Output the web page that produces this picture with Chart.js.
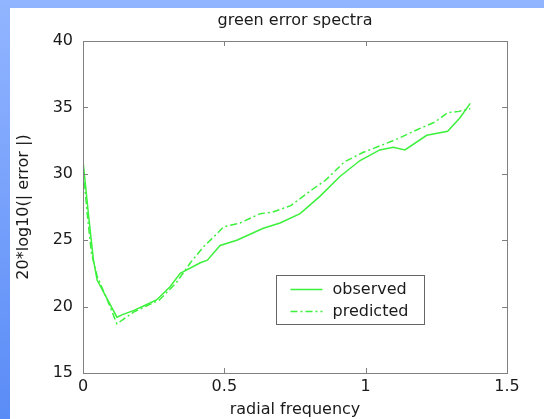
<!DOCTYPE html>
<html>
<head>
<meta charset="utf-8">
<script src="https://cdn.jsdelivr.net/npm/chart.js@4.4.1/dist/chart.umd.min.js"></script>
<style>
  html, body { margin: 0; padding: 0; }
  body {
    width: 544px; height: 419px; overflow: hidden;
    background: linear-gradient(to bottom, #92b5ff, #5a8cf7);
    position: relative;
  }
  #wrap { position: absolute; left: 10px; top: 8px; width: 534px; height: 411px; background: #fff; }
</style>
</head>
<body>
<div id="wrap"><canvas id="c" width="534" height="411"></canvas></div>
<script>
// observed spectrum
const freqObs = [0, 0.02, 0.037, 0.05, 0.085, 0.12, 0.14, 0.178, 0.22, 0.26, 0.308, 0.344, 0.415, 0.44, 0.485, 0.544, 0.638, 0.697, 0.768, 0.838, 0.909, 0.98, 1.05, 1.098, 1.139, 1.216, 1.29, 1.333, 1.37];
const errObs  = [31.0, 26.8, 23.5, 22.0, 20.6, 19.2, 19.4, 19.7, 20.1, 20.5, 21.5, 22.5, 23.3, 23.5, 24.6, 25.0, 25.9, 26.3, 27.0, 28.3, 29.8, 31.0, 31.8, 32.0, 31.8, 32.9, 33.2, 34.2, 35.3];
// predicted spectrum
const freqPred = [0, 0.015, 0.03, 0.05, 0.09, 0.12, 0.14, 0.18, 0.22, 0.27, 0.33, 0.38, 0.426, 0.465, 0.497, 0.556, 0.627, 0.669, 0.735, 0.81, 0.857, 0.925, 0.99, 1.062, 1.12, 1.18, 1.245, 1.29, 1.33, 1.37];
const errPred  = [30.5, 27.0, 24.0, 22.3, 20.3, 18.7, 19.0, 19.6, 20.0, 20.5, 21.8, 23.3, 24.5, 25.3, 26.0, 26.3, 27.0, 27.1, 27.6, 28.8, 29.5, 30.9, 31.6, 32.2, 32.7, 33.3, 33.9, 34.6, 34.7, 34.9];

const xTicks = [0, 0.5, 1, 1.5];
const yTicks = [15, 20, 25, 30, 35, 40];
const seriesNames = ['observed', 'predicted'];

const FONT = 'DejaVu Sans';
const TXT = '#1a1a1a';
const AXIS = '#808080';
const GREEN = '#3cf03c';

const pts = (xs, ys) => xs.map((x, i) => ({ x, y: ys[i] }));

// box, inward ticks, legend, matlab style
const matlabFrame = {
  id: 'matlabFrame',
  afterDraw(chart) {
    const { ctx, chartArea: a, scales: { x, y } } = chart;
    ctx.save();
    ctx.strokeStyle = AXIS;
    ctx.lineWidth = 1;
    ctx.strokeRect(Math.round(a.left) + 0.5, Math.round(a.top) + 0.5,
      Math.round(a.right - a.left), Math.round(a.bottom - a.top));
    ctx.beginPath();
    xTicks.forEach(v => {
      const px = Math.round(x.getPixelForValue(v)) + 0.5;
      ctx.moveTo(px, a.bottom); ctx.lineTo(px, a.bottom - 5);
      ctx.moveTo(px, a.top); ctx.lineTo(px, a.top + 5);
    });
    yTicks.forEach(v => {
      const py = Math.round(y.getPixelForValue(v)) + 0.5;
      ctx.moveTo(a.left, py); ctx.lineTo(a.left + 5, py);
      ctx.moveTo(a.right, py); ctx.lineTo(a.right - 5, py);
    });
    ctx.stroke();

    // legend
    const bx = Math.round(a.left + 193) + 0.5, by = Math.round(a.top + 234) + 0.5;
    const bw = 148, bh = 49;
    ctx.fillStyle = '#fff';
    ctx.fillRect(bx, by, bw, bh);
    ctx.strokeStyle = '#666';
    ctx.strokeRect(bx, by, bw, bh);
    ctx.font = '16px ' + FONT;
    ctx.textBaseline = 'middle';
    chart.data.datasets.forEach((ds, i) => {
      const ly = by + 14 + i * 22;
      ctx.strokeStyle = ds.borderColor;
      ctx.lineWidth = ds.borderWidth;
      ctx.setLineDash(ds.borderDash || []);
      ctx.beginPath();
      ctx.moveTo(bx + 14, ly); ctx.lineTo(bx + 46, ly);
      ctx.stroke();
      ctx.setLineDash([]);
      ctx.fillStyle = TXT;
      ctx.fillText(ds.label, bx + 56, ly);
    });
    ctx.restore();
  }
};

new Chart(document.getElementById('c'), {
  type: 'line',
  data: {
    datasets: [
      { label: seriesNames[0], data: pts(freqObs, errObs), borderColor: GREEN, borderWidth: 1.5, pointRadius: 0, tension: 0 },
      { label: seriesNames[1], data: pts(freqPred, errPred), borderColor: GREEN, borderWidth: 1.5, borderDash: [7, 3, 2, 3], pointRadius: 0, tension: 0 }
    ]
  },
  options: {
    responsive: false,
    animation: false,
    events: [],
    layout: { padding: { left: 0, top: 33, right: 37, bottom: 0 } },
    plugins: {
      legend: { display: false },
      tooltip: { enabled: false },
      title: { display: false }
    },
    scales: {
      x: {
        type: 'linear', min: 0, max: 1.5,
        afterBuildTicks: s => { s.ticks = xTicks.map(v => ({ value: v })); },
        afterFit: s => { s.height = 46; },
        grid: { display: false, drawTicks: false },
        border: { display: false },
        ticks: { color: TXT, font: { family: FONT, size: 16 }, padding: 4, maxRotation: 0,
                 callback: v => String(v) },
        title: { display: true, text: 'radial frequency', color: TXT, font: { family: FONT, size: 16 }, padding: { top: 0, bottom: 0 } }
      },
      y: {
        type: 'linear', min: 15, max: 40,
        afterBuildTicks: s => { s.ticks = yTicks.map(v => ({ value: v })); },
        afterFit: s => { s.width = 73; },
        grid: { display: false, drawTicks: false },
        border: { display: false },
        ticks: { color: TXT, font: { family: FONT, size: 16 }, padding: 10 },
        title: { display: true, text: '20*log10(| error |)', color: TXT, font: { family: FONT, size: 16 }, padding: { top: 4, bottom: 0 } }
      }
    }
  },
  plugins: [matlabFrame, {
    id: 'topTitle',
    afterDraw(chart) {
      const { ctx, chartArea: a } = chart;
      ctx.save();
      ctx.font = '16px ' + FONT;
      ctx.fillStyle = TXT;
      ctx.textAlign = 'center';
      ctx.textBaseline = 'middle';
      ctx.fillText('green error spectra', (a.left + a.right) / 2, 13);
      ctx.restore();
    }
  }]
});
</script>
</body>
</html>
